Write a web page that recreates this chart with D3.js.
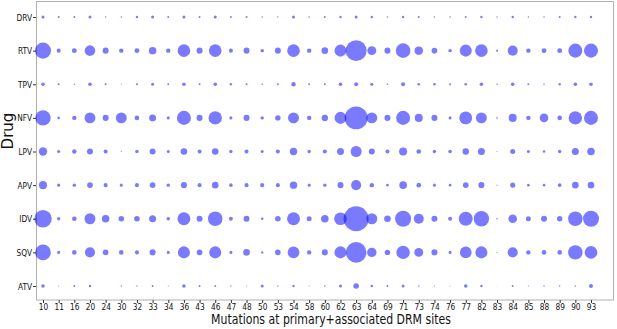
<!DOCTYPE html>
<html>
<head>
<meta charset="utf-8">
<script src="https://cdn.jsdelivr.net/npm/d3@7"></script>
<style>
  body { margin: 0; background: #fff; }
  text { font-family: "DejaVu Sans", sans-serif; }
</style>
</head>
<body>
<svg id="chart" width="617" height="329"></svg>
<script>
// mutation sites (x categories)
const sites = ["10","11","16","20","24","30","32","33","34","36","43","46","47","48","50","53","54","58",
               "60","62","63","64","69","71","73","74","76","77","82","83","84","85","88","89","90","93"];
const drugs = ["DRV","RTV","TPV","NFV","LPV","APV","IDV","SQV","ATV"];

// bubble values per drug (area units)
const DRV = [2.25,1,1,2.25,0.5,0.5,1.4,2.25,1,2.25,1,2.25,1,1,0.5,0.5,2.25,0.6, 1,1.4,2.25,1.4,0.6,1.4,1,0.5,0.6,1,1.4,0.5,1.4,0.5,0.5,1,1.4,1.4];
const RTV = [64,4,6,28,9,5,6,14,5,40,9,40,4,9,3,9,40,5, 11,36,110,20,9,53,18,8,3,36,40,1,25,5,6,6,49,49];
const TPV = [3.2,1,0.5,3.2,1,0.25,1,2.25,1,3.2,1,3.2,1.4,1,0.6,1,4.8,0.8, 1,3.2,4,2.25,0.6,4,1.7,1.7,1,1.7,3.2,0.5,3.2,1,0.6,1.4,3.2,3.2];
const NFV = [59,1.7,4.8,30,9,30,5.3,12,2.25,49,9,45,2.25,9,2.9,7.3,30,4.8, 10,36,132,30,9,49,16,9,2.25,42,30,0.6,16,4.8,18.5,5.3,45,49];
const LPV = [17.6,2.25,4.8,9,4,0.36,3.2,9,2.25,11,4,11,2.9,4,2.25,4,13.7,2.9, 4,12.25,30,9,4,16,5.3,2.9,3.2,10.2,12.25,0.25,6.25,2.25,1.7,2.9,12.25,14.4];
const APV = [16,2.25,2.9,7.8,4,2.25,4,7.8,2.9,9,4,11,3.2,4,4,4,13.7,2.25, 2.9,9,25,4.8,1.7,14.4,5.3,2.25,1.7,7.8,9,0.25,6.25,1.7,1.7,3.2,11,11];
const IDV = [76,2.9,5.3,30,14.4,7.8,7.8,12.25,3.2,42,9,53,4,9,1.7,7.8,42,6.25, 14.4,40,156,30,11,64,25,9,4,49,59,0.6,18.5,6.25,9,7.3,53,64];
const SQV = [61,2.25,5.3,25,7.8,5.3,4,9,2.25,36,7.8,36,2.25,11,1.4,7.8,34,4.8, 9,36,106,22,7.3,45,20,9,2.25,34,36,0.25,25,4.8,5.3,5.3,52,40];
const ATV = [3.2,0.25,1,1.4,0,0.5,0.5,1,0.25,3.2,1,1,0.5,0.25,2.25,0.5,1.4,0.25, 0.6,2.25,7.8,1.7,1,2.25,0.6,0.36,0.25,3.2,1.4,0.1,1,0.36,0.6,0.6,0.6,4];

const values = { DRV, RTV, TPV, NFV, LPV, APV, IDV, SQV, ATV };

const points = [];
drugs.forEach((d) => {
  values[d].forEach((v, i) => points.push({ drug: d, site: sites[i], value: v }));
});

const svg = d3.select("#chart");
const frame = { left: 36, right: 613, top: 1.5, bottom: 300 };
const squeeze = 0.78; // the original figure's text is narrowed horizontally

const x = d3.scalePoint().domain(sites).range([43, 591]);
const y = d3.scalePoint().domain(drugs).range([17, 286]);
const r = d3.scaleSqrt().domain([0, 156]).range([0, 12.5]);

// plot frame
svg.append("rect")
  .attr("x", frame.left + 0.5)
  .attr("y", frame.top)
  .attr("width", frame.right - frame.left)
  .attr("height", frame.bottom - frame.top)
  .attr("fill", "none")
  .attr("stroke", "#b0b0b0")
  .attr("stroke-width", 1);

// bubbles
svg.append("g")
  .selectAll("circle")
  .data(points)
  .join("circle")
  .attr("cx", (d) => x(d.site))
  .attr("cy", (d) => y(d.drug))
  .attr("r", (d) => r(d.value))
  .attr("fill", "blue")
  .attr("fill-opacity", 0.52);

// axes
const xAxis = svg.append("g")
  .attr("transform", `translate(0,${frame.bottom})`)
  .call(d3.axisBottom(x).tickSize(3).tickPadding(0));
const yAxis = svg.append("g")
  .attr("transform", `translate(${frame.left},0)`)
  .call(d3.axisLeft(y).tickSize(3).tickPadding(2));

[xAxis, yAxis].forEach((g) => {
  g.select(".domain").remove();
  g.selectAll(".tick line").attr("stroke", "#333");
  g.selectAll(".tick text")
    .attr("fill", "#111")
    .attr("transform", `scale(${squeeze},1)`)
    .style("font-size", "9.5px")
    .style("font-family", "DejaVu Sans, sans-serif");
});

// axis titles
svg.append("text")
  .attr("transform", `translate(331,324) scale(${squeeze},1)`)
  .attr("text-anchor", "middle")
  .style("font-size", "14px")
  .attr("fill", "#111")
  .text("Mutations at primary+associated DRM sites");

svg.append("text")
  .attr("transform", "translate(13,131) rotate(-90)")
  .attr("text-anchor", "middle")
  .style("font-size", "15px")
  .attr("fill", "#111")
  .text("Drug");
</script>
</body>
</html>
